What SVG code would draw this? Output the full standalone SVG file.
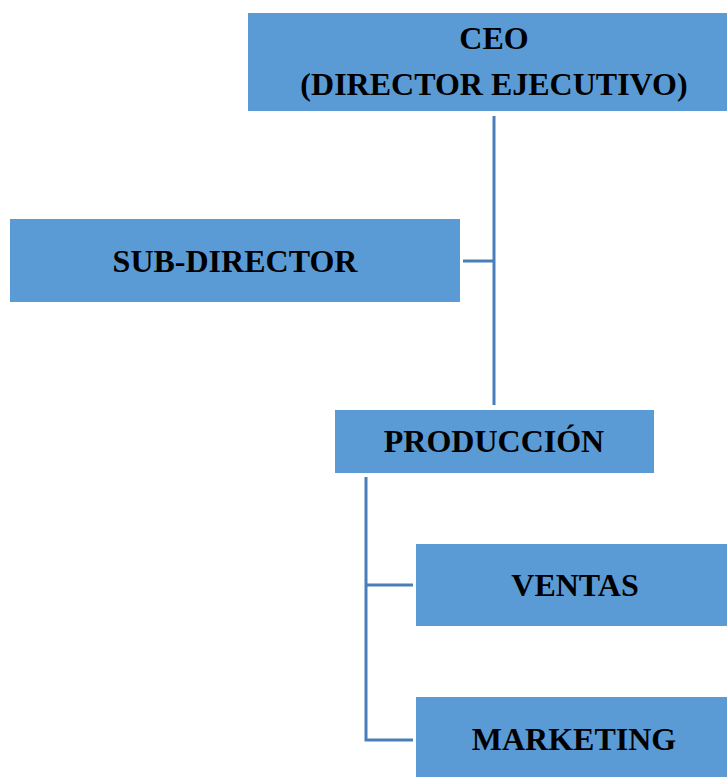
<svg xmlns="http://www.w3.org/2000/svg" width="727" height="777" viewBox="0 0 727 777">
<style>
.box{fill:#5B9BD5;}
.lbl{font-family:"Liberation Serif","Times New Roman",serif;font-weight:bold;font-size:32px;fill:#000;text-anchor:middle;}
.conn{fill:none;stroke:#4A7EBB;stroke-width:3;}
</style>
<rect width="727" height="777" fill="#fff"/>
<g id="connectors">
<path class="conn" d="M494,116 V405"/>
<path class="conn" d="M463,261 H494"/>
<path class="conn" d="M366,477 V740 H413"/>
<path class="conn" d="M366,585 H413"/>
</g>
<g id="ceo">
<rect class="box" x="248" y="13" width="479" height="98"/>
<text class="lbl" x="494" y="49">CEO</text>
<text class="lbl" x="494" y="95">(DIRECTOR EJECUTIVO)</text>
</g>
<g id="subdirector">
<rect class="box" x="10" y="219" width="450" height="83"/>
<text class="lbl" x="235" y="272">SUB-DIRECTOR</text>
</g>
<g id="produccion">
<rect class="box" x="335" y="410" width="319" height="63"/>
<text class="lbl" x="494" y="452">PRODUCCIÓN</text>
</g>
<g id="ventas">
<rect class="box" x="416" y="544" width="311" height="82"/>
<text class="lbl" x="575" y="596">VENTAS</text>
</g>
<g id="marketing">
<rect class="box" x="416" y="697" width="311" height="80"/>
<text class="lbl" x="574" y="750">MARKETING</text>
</g>
</svg>
